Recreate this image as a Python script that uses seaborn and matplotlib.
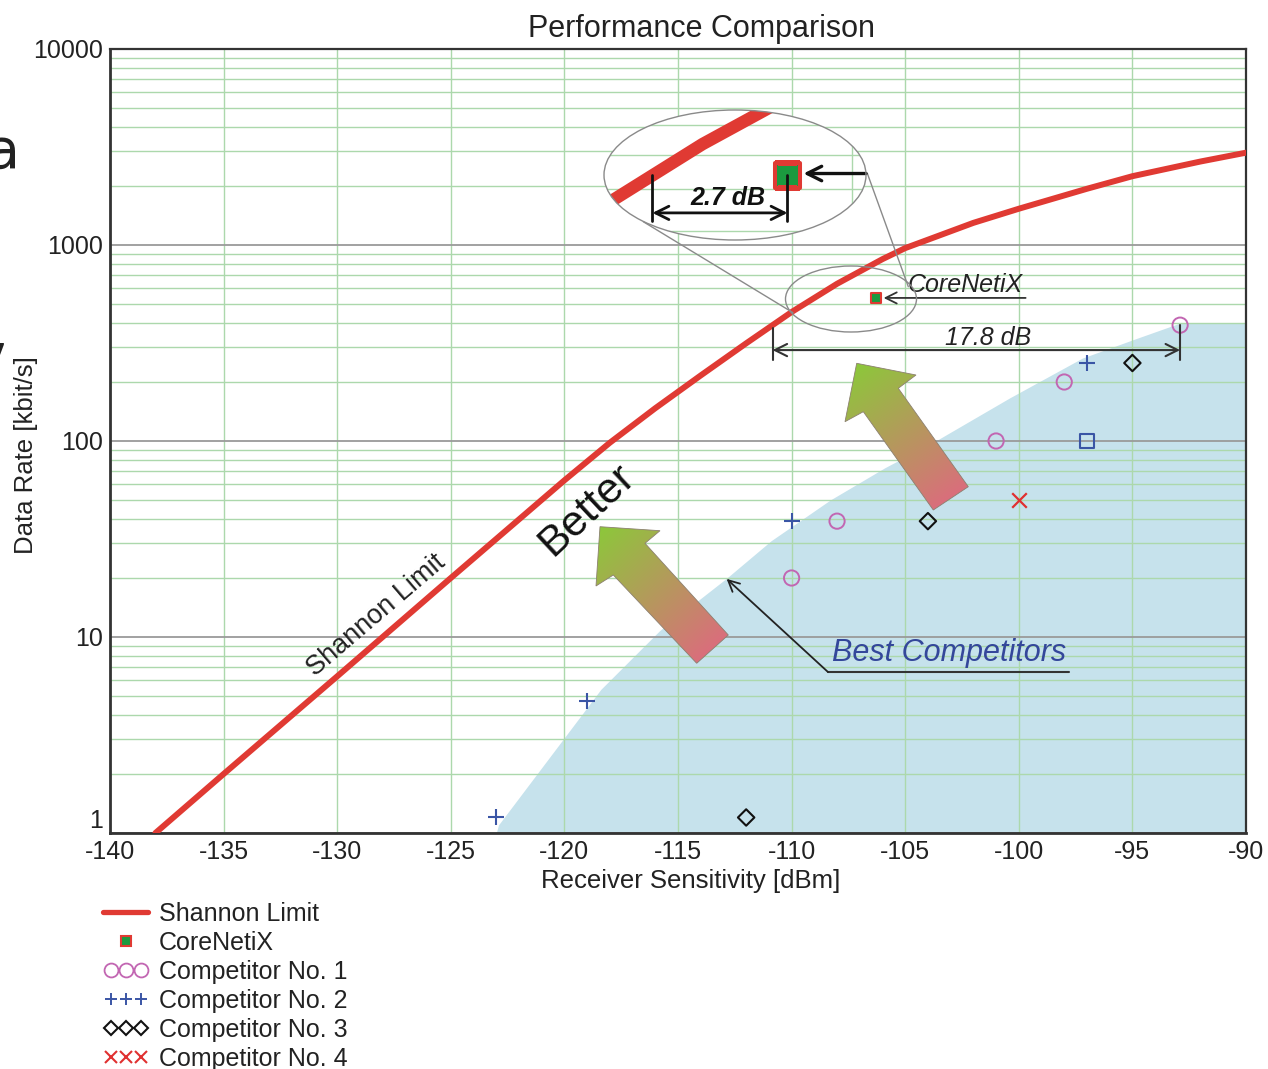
import numpy as np
import matplotlib
matplotlib.use("Agg")
import matplotlib.pyplot as plt
import seaborn as sns
from matplotlib.patches import Ellipse, Polygon
from matplotlib.lines import Line2D
from matplotlib.legend_handler import HandlerLine2D
from matplotlib.ticker import LogLocator, NullFormatter, FixedLocator

# ---------------- data ----------------
shannon_x = [-138, -135, -130, -125, -122, -120, -118, -116, -114, -112,
             -110, -108, -106, -105, -102, -100, -97, -95, -92, -90]
shannon_y = [1.0, 2.0, 6.3, 20, 39.8, 63, 98, 147, 216, 315,
             455, 634, 847, 964, 1297, 1531, 1936, 2244, 2667, 2958]

fill_x = [-123.0, -122.9, -118.4, -115.8, -112.85, -110.9,
          -108.3, -105.9, -103.6, -100.4, -97.2, -94.9, -92.9, -90.0]
fill_y = [1.0, 1.1, 5.4, 10.8, 20, 31, 50, 73, 101, 166, 265,
          331, 400, 400]

corenetix_x = [-106.3]
corenetix_y = [537]
comp1_x = [-110, -108, -101, -98, -92.9]
comp1_y = [20, 39, 100, 200, 390]
comp2_x = [-123, -119, -110, -97]
comp2_y = [1.2, 4.7, 39, 250]
comp3_x = [-112, -104, -95]
comp3_y = [1.2, 39, 250]
comp4_x = [-100]
comp4_y = [50]
other_x = [-97]
other_y = [100]

x_ticks = [-140, -135, -130, -125, -120, -115, -110, -105, -100, -95, -90]
x_ticklabels = [str(v) for v in x_ticks]
y_ticks = [1, 10, 100, 1000, 10000]
y_ticklabels = ["1", "10", "100", "1000", "10000"]
legend_labels = ["Shannon Limit", "CoreNetiX", "Competitor No. 1",
                 "Competitor No. 2", "Competitor No. 3", "Competitor No. 4"]

# ---------------- style ----------------
sns.set_style("white")
plt.rcParams["font.family"] = ["Liberation Sans", "DejaVu Sans"]
plt.rcParams["axes.unicode_minus"] = False

RED = "#e03a33"
GREEN = "#1b9a3f"
C1 = "#c266b2"
C2 = "#3a55a5"
C3 = "#111111"
C4 = "#e03030"
GRID_G = "#acd8ac"
GRID_D = "#9a9a9a"
FILL = "#c6e2ec"
TXT = "#222222"

W, H = 1268, 1069
fig = plt.figure(figsize=(W / 100, H / 100), dpi=100)
fig.patch.set_facecolor("white")

ax = fig.add_axes([110 / W, 1 - 833 / H, 1136 / W, 784 / H], zorder=0)
ax.set_yscale("log")
ax.set_axisbelow(True)

ax.fill_between(fill_x, 1, fill_y, color=FILL, lw=0, zorder=0.2)

sns.lineplot(x=shannon_x, y=shannon_y, ax=ax, color=RED, lw=4.3,
             estimator=None, sort=False, legend=False, zorder=3)

sns.scatterplot(x=comp1_x, y=comp1_y, ax=ax, marker="o", s=120,
                color=C1, facecolor="none", edgecolor=C1, linewidth=1.4, zorder=5)
sns.scatterplot(x=comp2_x, y=comp2_y, ax=ax, marker="+", s=130,
                color=C2, edgecolor=C2, linewidth=1.5, zorder=5)
sns.scatterplot(x=comp3_x, y=comp3_y, ax=ax, marker="D", s=70,
                color=C3, facecolor="none", edgecolor=C3, linewidth=1.5, zorder=5)
sns.scatterplot(x=comp4_x, y=comp4_y, ax=ax, marker="x", s=110,
                color=C4, edgecolor=C4, linewidth=1.6, zorder=5)
sns.scatterplot(x=other_x, y=other_y, ax=ax, marker="s", s=90,
                color=C2, facecolor="none", edgecolor=C2, linewidth=1.5, zorder=5)
sns.scatterplot(x=corenetix_x, y=corenetix_y, ax=ax, marker="s", s=56,
                color=GREEN, edgecolor=RED, linewidth=1.5, zorder=6)

ax.set_xticks(x_ticks)
ax.set_xticklabels(x_ticklabels)
ax.yaxis.set_major_locator(FixedLocator(y_ticks))
ax.set_yticklabels(y_ticklabels)
ax.yaxis.set_minor_locator(LogLocator(base=10, subs=np.arange(2, 10)))
ax.yaxis.set_minor_formatter(NullFormatter())
ax.set_xlim(-140, -90)
ax.set_ylim(1, 10000)
ax.tick_params(which="both", length=0, labelsize=18, colors=TXT)
ax.tick_params(axis="x", pad=5)
ax.tick_params(axis="y", pad=5)
ax.grid(which="minor", axis="y", color=GRID_G, lw=1.0)
ax.grid(which="major", axis="x", color=GRID_G, lw=1.0)
ax.grid(which="major", axis="y", color=GRID_D, lw=1.3)
for side, sp in ax.spines.items():
    sp.set_visible(True)
    sp.set_color("#333333")
    sp.set_linewidth(2.0 if side in ("left", "bottom") else 1.6)

ax.set_title("Performance Comparison", fontsize=22, pad=9, x=0.521, color=TXT)
ax.set_xlabel("Receiver Sensitivity [dBm]", fontsize=18.5, color=TXT)
ax.set_ylabel("Data Rate [kbit/s]", fontsize=18.5, color=TXT)
ax.xaxis.set_label_coords(0.511, -0.046)
ax.yaxis.set_label_coords(-0.063, 0.482)

# ---------- text annotations in data coords ----------
ax.text(-128.3, 12.9, "Shannon Limit", fontsize=19.5, rotation=40.5,
        rotation_mode="anchor", ha="center", va="center", color=TXT, zorder=6)
ax.text(-119.0, 44.5, "Better", fontsize=31, rotation=43,
        rotation_mode="anchor", ha="center", va="center", color="#111111", zorder=6)

# 17.8 dB dimension: curve position at best competitor data rate
best_rate = max(comp1_y)
best_x = comp1_x[int(np.argmax(comp1_y))]
curve_x = float(np.interp(np.log10(best_rate), np.log10(shannon_y), shannon_x))
dim_y = 291
ax.annotate("", xy=(curve_x, dim_y), xytext=(best_x, dim_y),
            arrowprops=dict(arrowstyle="<->", lw=1.5, color="#333333",
                            mutation_scale=22, shrinkA=0, shrinkB=0), zorder=6)
ax.plot([curve_x, curve_x], [260, 375], color="#333333", lw=1.5, zorder=6)
ax.plot([best_x, best_x], [260, best_rate], color="#333333", lw=1.5, zorder=6)
ax.text((curve_x + best_x) / 2 + 0.5, 336, "17.8 dB", fontsize=18, style="italic",
        ha="center", va="center", color=TXT, zorder=6)

# CoreNetiX label
cx, cy = corenetix_x[0], corenetix_y[0]
ax.annotate("", xy=(cx + 0.35, cy), xytext=(-99.7, cy),
            arrowprops=dict(arrowstyle="->", lw=1.3, color="#333333",
                            mutation_scale=20, shrinkA=0, shrinkB=0), zorder=6)
ax.text(-104.9, 628, "CoreNetiX", fontsize=18, style="italic",
        ha="left", va="center", color=TXT, zorder=6)

# Best Competitors label
ax.text(-108.2, 8.3, "Best Competitors", fontsize=22, style="italic",
        ha="left", va="center", color="#34479a", zorder=6)
ax.plot([-108.4, -97.8], [6.63, 6.63], color="#333333", lw=1.5, zorder=6)
ax.annotate("", xy=(-112.86, 19.8), xytext=(-108.4, 6.63),
            arrowprops=dict(arrowstyle="->", lw=1.3, color="#222222",
                            mutation_scale=20, shrinkA=0, shrinkB=0), zorder=6)

# ---------------- overlay (pixel coords) ----------------
ov = fig.add_axes([0, 0, 1, 1], zorder=1)
ov.set_xlim(0, W)
ov.set_ylim(H, 0)
ov.axis("off")

tip_col = np.array([140, 200, 58]) / 255.0
tail_col = np.array([218, 110, 124]) / 255.0


def grad_arrow(axo, pts):
    pts = np.array(pts, dtype=float)
    tip = pts[0]
    tail = (pts[3] + pts[4]) / 2
    x0, y0 = pts.min(0)
    x1, y1 = pts.max(0)
    xs = np.linspace(x0, x1, 240)
    ys = np.linspace(y0, y1, 240)
    X, Y = np.meshgrid(xs, ys)
    d = tip - tail
    t = ((X - tail[0]) * d[0] + (Y - tail[1]) * d[1]) / (d @ d)
    t = np.clip(t, 0, 1)[..., None]
    img = tail_col * (1 - t) + tip_col * t
    poly = Polygon(pts, closed=True, fc="none", ec="#8c8070", lw=0.6,
                   transform=axo.transData, zorder=3)
    axo.add_patch(poly)
    im = axo.imshow(img, extent=[x0, x1, y1, y0], origin="upper",
                    aspect="auto", interpolation="bilinear", zorder=2)
    im.set_clip_path(poly)


grad_arrow(ov, [(600, 526.7), (660, 530.7), (645, 543.3), (728.3, 635),
                (696.7, 663.3), (613.3, 575), (596, 586)])
grad_arrow(ov, [(856.7, 363.3), (916, 375), (898.3, 388.3), (968.3, 486.7),
                (933.3, 510), (863.3, 411.7), (845, 421.7)])

# magnifier ellipses and connectors
ov.add_patch(Ellipse((735, 175), 262, 130, fc="white", ec="none", zorder=1))
ov.add_patch(Ellipse((851, 299), 131, 66, fc="none", ec="#8a8a8a", lw=1.0, zorder=4))
ov.plot([643.3, 793], [221.7, 312.7], color="#8a8a8a", lw=1.0, zorder=4)
ov.plot([867.3, 908.3], [173.3, 286.7], color="#8a8a8a", lw=1.0, zorder=4)
ov.set_xlim(0, W)
ov.set_ylim(H, 0)

# ---------------- magnified inset ----------------
ax_in = fig.add_axes([604 / W, 1 - 240 / H, 262 / W, 130 / H], zorder=2)
ax_in.set_yscale("log")
sns.lineplot(x=shannon_x, y=shannon_y, ax=ax_in, color=RED, lw=9,
             estimator=None, sort=False, legend=False, zorder=3)
sns.scatterplot(x=corenetix_x, y=corenetix_y, ax=ax_in, marker="s", s=324,
                color=GREEN, edgecolor=RED, linewidth=2.9, zorder=5)
ax_in.set_xticks(x_ticks)
ax_in.yaxis.set_major_locator(FixedLocator(y_ticks))
ax_in.yaxis.set_minor_locator(LogLocator(base=10, subs=np.arange(2, 10)))
ax_in.yaxis.set_minor_formatter(NullFormatter())
ax_in.set_xlim(-109.97, -104.73)
ax_in.set_ylim(381, 760)
ax_in.tick_params(which="both", length=0, labelbottom=False, labelleft=False)
ax_in.grid(which="minor", axis="y", color=GRID_G, lw=1.0)
ax_in.grid(which="major", axis="x", color=GRID_G, lw=1.0)
ax_in.patch.set_visible(False)
for sp in ax_in.spines.values():
    sp.set_visible(False)
ax_in.set_xlabel("")
ax_in.set_ylabel("")

clip_ell = Ellipse((0.5, 0.5), 1, 1, transform=ax_in.transAxes)
for art in list(ax_in.lines) + list(ax_in.collections):
    art.set_clip_path(clip_ell)

# 2.7 dB dimension inside inset
gap_x = float(np.interp(np.log10(cy), np.log10(shannon_y), shannon_x))
ax_in.plot([gap_x, gap_x], [cy, 421], color="#111111", lw=2.0, zorder=6)
ax_in.plot([cx, cx], [cy, 421], color="#111111", lw=2.0, zorder=6)
ax_in.annotate("", xy=(gap_x, 440), xytext=(cx, 440),
               arrowprops=dict(arrowstyle="<->", lw=2.0, color="#111111",
                               mutation_scale=24, shrinkA=0, shrinkB=0), zorder=6)
ax_in.text((gap_x + cx) / 2 + 0.15, 447, "2.7 dB", fontsize=18, style="italic",
           weight="bold", ha="center", va="bottom", color="#111111", zorder=6)
ax_in.annotate("", xy=(cx + 0.32, cy * 1.01), xytext=(-104.73, cy * 1.01),
               arrowprops=dict(arrowstyle="->", lw=2.4, color="#111111",
                               mutation_scale=26, shrinkA=0, shrinkB=0),
               zorder=6, annotation_clip=False)
ax_in.add_patch(Ellipse((0.5, 0.5), 1, 1, transform=ax_in.transAxes,
                        fc="none", ec="#8a8a8a", lw=1.0, clip_on=False, zorder=10))

# ---------------- legend ----------------
handles = [
    Line2D([], [], color=RED, lw=3.8),
    Line2D([], [], ls="none", marker="s", ms=7.8, mfc=GREEN, mec=RED, mew=1.5),
    Line2D([], [], ls="none", marker="o", ms=10, mfc="none", mec=C1, mew=1.3),
    Line2D([], [], ls="none", marker="+", ms=9, mec=C2, mew=1.4),
    Line2D([], [], ls="none", marker="D", ms=7.5, mfc="none", mec=C3, mew=1.5),
    Line2D([], [], ls="none", marker="x", ms=9, mec=C4, mew=1.5),
]
hmap = {h: HandlerLine2D(numpoints=3) for h in handles[2:]}
hmap[handles[1]] = HandlerLine2D(numpoints=1)
fig.legend(handles, legend_labels, loc="upper left",
           bbox_to_anchor=(103 / W, 1 - 902 / H), frameon=False,
           fontsize=18, handlelength=1.8, handletextpad=0.45,
           labelspacing=0.2, borderpad=0, borderaxespad=0, handler_map=hmap,
           labelcolor=TXT)

# partially visible text fragments at the left edge
fig.text(20 / W, 1 - 153 / H, "a", fontsize=40, ha="right", va="center",
         color=TXT, family=["DejaVu Sans"])
fig.text(7 / W, 1 - 362 / H, "7", fontsize=30, ha="right", va="center",
         color=TXT, family=["DejaVu Sans"])

# first draw, then clip inset gridlines and lift the "1" label
fig.canvas.draw()
for axis in (ax_in.xaxis, ax_in.yaxis):
    for t in axis.get_major_ticks() + axis.get_minor_ticks():
        t.gridline.set_clip_path(clip_ell)
ax.yaxis.get_major_ticks()[0].label1.set_va("bottom")

fig.savefig("out.png", dpi=100, facecolor="white")
